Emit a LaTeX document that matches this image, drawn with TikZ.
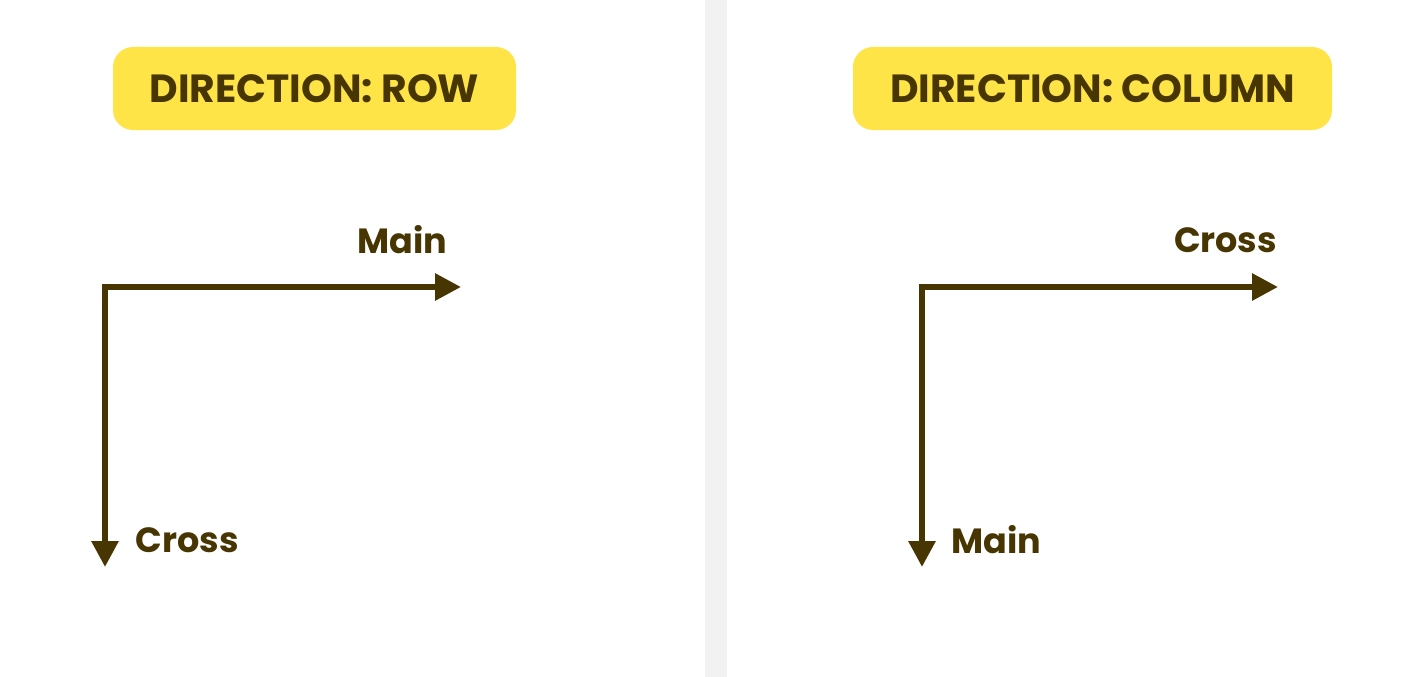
\documentclass[tikz,border=0pt]{standalone}
\usepackage{fontspec}
\setmainfont{Poppins}[BoldFont={* Bold}]
\usetikzlibrary{arrows.meta}
\definecolor{ink}{HTML}{473502}
\definecolor{hl}{HTML}{FFE447}
\definecolor{divider}{HTML}{F2F2F2}
\tikzset{
  title/.style={fill=hl, rounded corners=20pt, minimum height=83pt, text=ink, font=\fontsize{39.3}{39.3}\selectfont\bfseries, inner sep=0pt},
  axis/.style={draw=ink, line width=6pt, -{Triangle[length=26pt,width=26pt]}},
  lbl/.style={text=ink, font=\fontsize{35}{35}\selectfont\bfseries, inner sep=0pt},
}
\begin{document}
\begin{tikzpicture}[x=1pt,y=-1pt]
\useasboundingbox[fill=white] (0,0) rectangle (1406,677);
\fill[divider] (705,0) rectangle (727,677);
% left panel
\node[title, minimum width=403pt] (t1) at (314.5,88.5) {DIRECTION: ROW};
\coordinate (c1) at (105,287);
\coordinate (m1) at (461,287);
\coordinate (x1) at (105,567);
\draw[axis] ([xshift=-3pt]c1) -- (m1);
\draw[axis] ([yshift=-3pt]c1) -- (x1);
\node[lbl] (lm1) at (402.5,240) {Main};
\node[lbl] (lc1) at (187.5,540) {Cross};
% right panel
\node[title, minimum width=479pt] (t2) at (1092.5,88.5) {DIRECTION: COLUMN};
\coordinate (c2) at (922,287);
\coordinate (m2) at (1278,287);
\coordinate (x2) at (922,567);
\draw[axis] ([xshift=-3pt]c2) -- (m2);
\draw[axis] ([yshift=-3pt]c2) -- (x2);
\node[lbl] (lc2) at (1225.5,240) {Cross};
\node[lbl] (lm2) at (996.5,540) {Main};
\end{tikzpicture}
\end{document}
